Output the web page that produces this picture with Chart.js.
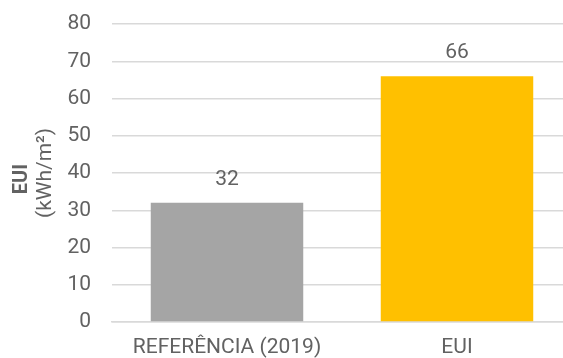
<!DOCTYPE html>
<html>
<head>
<meta charset="utf-8">
<script src="https://cdn.jsdelivr.net/npm/chart.js@4/dist/chart.umd.min.js"></script>
<style>
  html, body { margin: 0; padding: 0; background: #ffffff; overflow: hidden; }
  #wrap { width: 563px; height: 358px; overflow: hidden; }
  canvas { display: block; }
</style>
</head>
<body>
<div id="wrap"><canvas id="c" width="572" height="358"></canvas></div>
<script>
// Energy use intensity: reference year against the current value
const categories = ['REFERÊNCIA (2019)', 'EUI'];
const euiValues = [32, 66];
const barColors = ['#a5a5a5', '#ffc000'];
const yTicks = [0, 10, 20, 30, 40, 50, 60, 70, 80];
const axisTitle = ['EUI', '(kWh/m²)'];

const TEXT = '#626262';
const FONT = 'Roboto, "Open Sans", sans-serif';

// Value printed above each bar
const valueLabels = {
  id: 'valueLabels',
  afterDatasetsDraw(chart) {
    const ctx = chart.ctx;
    const meta = chart.getDatasetMeta(0);
    ctx.save();
    ctx.fillStyle = TEXT;
    ctx.font = '21px ' + FONT;
    ctx.textAlign = 'center';
    ctx.textBaseline = 'middle';
    meta.data.forEach((bar, i) => {
      ctx.fillText(String(chart.data.datasets[0].data[i]), bar.x, bar.y - 23);
    });
    ctx.restore();
  }
};

// Two-line rotated y-axis title: bold metric name, unit below it
const yTitle = {
  id: 'yTitle',
  afterDraw(chart) {
    const ctx = chart.ctx;
    const line = (text, font, x, y) => {
      ctx.save();
      ctx.fillStyle = TEXT;
      ctx.textAlign = 'center';
      ctx.textBaseline = 'middle';
      ctx.translate(x, y);
      ctx.rotate(-Math.PI / 2);
      ctx.font = font;
      ctx.fillText(text, 0, 0);
      ctx.restore();
    };
    line(axisTitle[0], 'bold 20px ' + FONT, 22, 179);
    line(axisTitle[1], '21px ' + FONT, 46, 173);
  }
};

new Chart(document.getElementById('c'), {
  type: 'bar',
  data: {
    labels: categories,
    datasets: [{
      data: euiValues,
      backgroundColor: barColors,
      borderWidth: 0,
      barPercentage: 0.663,
      categoryPercentage: 1.0
    }]
  },
  options: {
    responsive: false,
    animation: false,
    devicePixelRatio: 1,
    layout: { padding: { top: 24, right: 0, bottom: 0, left: 0 } },
    plugins: {
      legend: { display: false },
      tooltip: { enabled: false }
    },
    scales: {
      x: {
        grid: { display: false, drawTicks: false },
        border: { display: true, color: '#d9d9d9', width: 1.5 },
        ticks: { color: TEXT, font: { family: FONT, size: 21 }, padding: 13, maxRotation: 0 },
        afterFit(scale) { scale.height = 36; scale.paddingLeft = 0; scale.paddingRight = 0; }
      },
      y: {
        min: 0,
        max: 80,
        afterBuildTicks(scale) { scale.ticks = yTicks.map(v => ({ value: v })); },
        grid: { color: '#d9d9d9', lineWidth: 1.5, drawTicks: false },
        border: { display: false },
        ticks: { color: TEXT, font: { family: FONT, size: 21 }, padding: 21 },
        afterFit(scale) { scale.width = 112; scale.paddingTop = 0; scale.paddingBottom = 0; }
      }
    }
  },
  plugins: [valueLabels, yTitle]
});
</script>
</body>
</html>
